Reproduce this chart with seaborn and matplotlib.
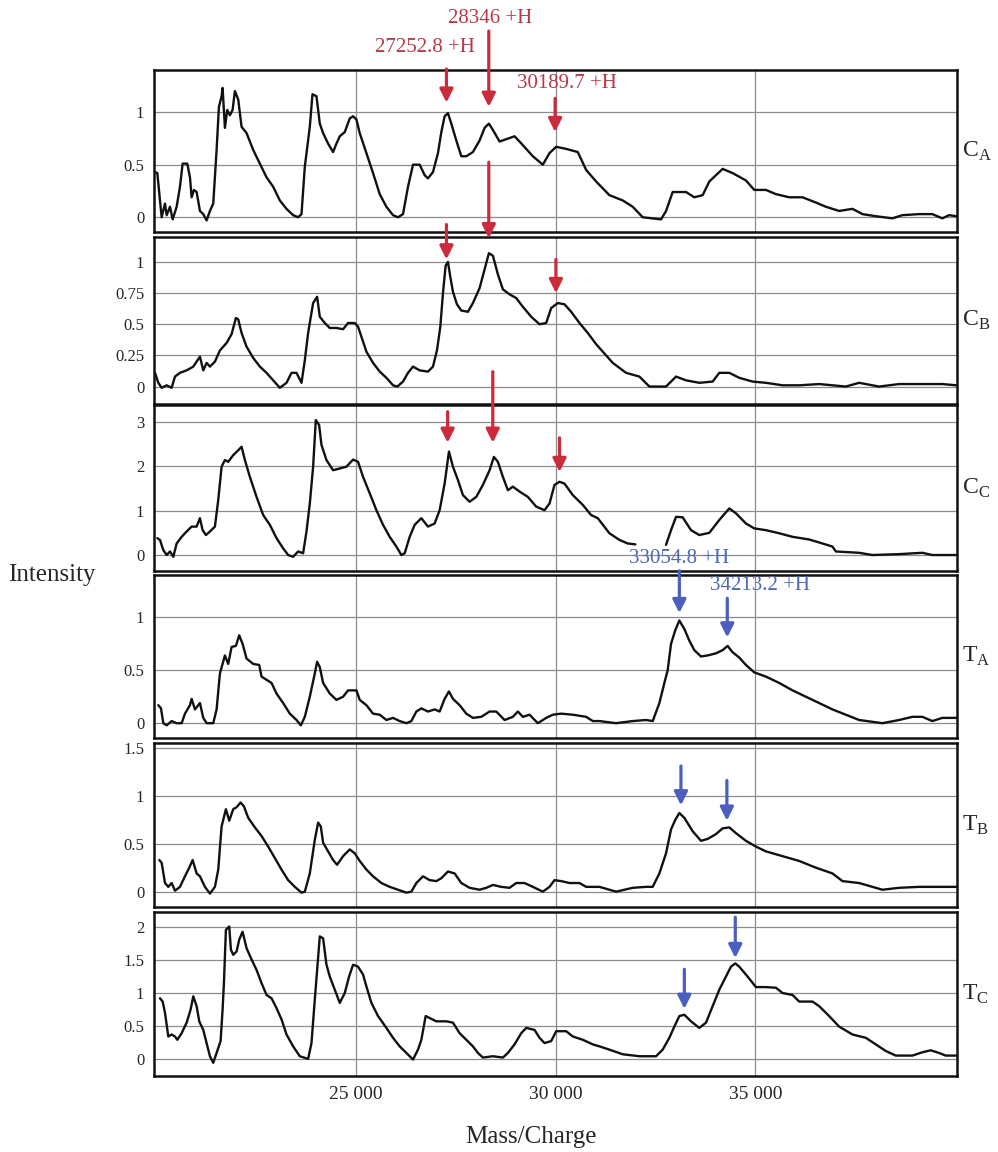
import matplotlib
matplotlib.use("Agg")
import matplotlib.pyplot as plt
import seaborn as sns
import pandas as pd

# Traces (mass/charge, intensity)
ca_points = [
    (19975, 0.43), (20033, 0.42), (20100, 0.16), (20142, 0.00), (20225, 0.13), (20267, 0.02),
    (20350, 0.10), (20417, -0.02), (20517, 0.10), (20600, 0.29), (20667, 0.51), (20783, 0.51),
    (20850, 0.38), (20892, 0.19), (20950, 0.26), (21017, 0.24), (21100, 0.06), (21183, 0.03),
    (21267, -0.03), (21350, 0.06), (21433, 0.13), (21517, 0.64), (21575, 1.05), (21642, 1.15),
    (21667, 1.23), (21725, 0.85), (21783, 1.02), (21850, 0.97), (21917, 1.02), (21975, 1.20),
    (22058, 1.12), (22142, 0.86), (22267, 0.80), (22433, 0.64), (22600, 0.51), (22767, 0.38),
    (22933, 0.29), (23100, 0.16), (23267, 0.08), (23433, 0.02), (23558, 0.00), (23642, 0.03),
    (23725, 0.48), (23850, 0.86), (23917, 1.17), (24017, 1.15), (24100, 0.89), (24183, 0.80),
    (24308, 0.70), (24433, 0.62), (24517, 0.70), (24600, 0.77), (24725, 0.81), (24850, 0.94),
    (24933, 0.96), (25017, 0.93), (25100, 0.80), (25267, 0.61), (25433, 0.42), (25600, 0.22),
    (25767, 0.10), (25933, 0.02), (26058, 0.00), (26183, 0.03), (26308, 0.29), (26433, 0.50),
    (26600, 0.50), (26725, 0.40), (26808, 0.37), (26933, 0.43), (27058, 0.61), (27142, 0.81),
    (27225, 0.96), (27308, 0.99), (27392, 0.89), (27517, 0.73), (27642, 0.58), (27767, 0.58),
    (27933, 0.62), (28100, 0.73), (28225, 0.85), (28333, 0.89), (28433, 0.83), (28600, 0.72),
    (28975, 0.77), (29100, 0.72), (29433, 0.58), (29683, 0.50), (29850, 0.61), (30017, 0.67),
    (30267, 0.65), (30558, 0.62), (30767, 0.45), (31017, 0.34), (31350, 0.21), (31683, 0.16),
    (31933, 0.10), (32183, 0.00), (32642, -0.02), (32767, 0.06), (32933, 0.24), (33267, 0.24),
    (33475, 0.19), (33683, 0.21), (33850, 0.34), (34183, 0.46), (34433, 0.42), (34767, 0.35),
    (34975, 0.26), (35267, 0.26), (35517, 0.22), (35850, 0.19), (36183, 0.19), (36517, 0.14),
    (36767, 0.10), (37100, 0.06), (37433, 0.08), (37683, 0.03), (38017, 0.01), (38433, -0.01),
    (38683, 0.02), (39100, 0.03), (39433, 0.03), (39683, -0.01), (39850, 0.02), (40033, 0.01),
]

cb_points = [
    (19975, 0.11), (20058, 0.03), (20142, -0.01), (20267, 0.01), (20392, -0.01), (20475, 0.08),
    (20600, 0.11), (20767, 0.13), (20933, 0.16), (21100, 0.24), (21183, 0.13), (21267, 0.19),
    (21350, 0.16), (21475, 0.20), (21600, 0.29), (21767, 0.35), (21892, 0.42), (22000, 0.55),
    (22058, 0.54), (22142, 0.43), (22267, 0.32), (22433, 0.23), (22600, 0.16), (22767, 0.11),
    (22933, 0.05), (23100, -0.01), (23267, 0.03), (23392, 0.11), (23517, 0.11), (23642, 0.03),
    (23725, 0.21), (23808, 0.43), (23933, 0.67), (24033, 0.72), (24100, 0.56), (24225, 0.51),
    (24350, 0.47), (24517, 0.47), (24683, 0.46), (24808, 0.51), (24975, 0.51), (25058, 0.48),
    (25142, 0.40), (25267, 0.28), (25433, 0.19), (25600, 0.12), (25767, 0.07), (25933, 0.01),
    (26042, 0.00), (26183, 0.04), (26308, 0.11), (26433, 0.16), (26600, 0.13), (26808, 0.12),
    (26933, 0.16), (27033, 0.29), (27117, 0.48), (27183, 0.75), (27250, 0.97), (27308, 1.00),
    (27367, 0.88), (27433, 0.76), (27533, 0.66), (27642, 0.61), (27808, 0.60), (27933, 0.67),
    (28100, 0.79), (28225, 0.94), (28333, 1.07), (28433, 1.05), (28558, 0.90), (28683, 0.78),
    (28850, 0.74), (29017, 0.71), (29183, 0.64), (29392, 0.56), (29600, 0.50), (29767, 0.51),
    (29892, 0.63), (30058, 0.67), (30225, 0.66), (30392, 0.60), (30600, 0.51), (30808, 0.43),
    (31017, 0.34), (31433, 0.19), (31767, 0.11), (32100, 0.08), (32350, 0.00), (32767, 0.00),
    (33017, 0.08), (33267, 0.05), (33600, 0.03), (33933, 0.04), (34100, 0.11), (34350, 0.11),
    (34600, 0.07), (34933, 0.04), (35267, 0.03), (35683, 0.01), (36100, 0.01), (36600, 0.02),
    (37267, 0.00), (37600, 0.03), (38100, 0.00), (38600, 0.02), (39183, 0.02), (39683, 0.02),
    (40033, 0.01),
]

# CC has a break in the trace around 32 000 - 32 700
cc_points_a = [
    (20033, 0.38), (20100, 0.34), (20183, 0.11), (20267, 0.00), (20350, 0.08), (20433, -0.04),
    (20517, 0.26), (20642, 0.41), (20767, 0.53), (20892, 0.64), (21017, 0.64), (21100, 0.83),
    (21167, 0.56), (21250, 0.45), (21350, 0.53), (21475, 0.64), (21558, 1.24), (21642, 1.99),
    (21725, 2.14), (21808, 2.10), (21933, 2.25), (22058, 2.36), (22142, 2.44), (22225, 2.14),
    (22350, 1.76), (22517, 1.31), (22683, 0.90), (22850, 0.68), (23017, 0.38), (23183, 0.15),
    (23308, 0.00), (23433, -0.04), (23558, 0.08), (23683, 0.04), (23767, 0.53), (23850, 1.16),
    (23933, 1.99), (24000, 3.04), (24083, 2.93), (24142, 2.48), (24267, 2.14), (24433, 1.91),
    (24600, 1.95), (24767, 1.99), (24933, 2.15), (25058, 2.10), (25183, 1.76), (25350, 1.39),
    (25517, 1.01), (25683, 0.68), (25850, 0.41), (26017, 0.19), (26142, 0.00), (26225, 0.04),
    (26350, 0.41), (26475, 0.68), (26642, 0.83), (26808, 0.64), (26975, 0.71), (27100, 1.01),
    (27225, 1.61), (27333, 2.33), (27433, 1.99), (27558, 1.69), (27683, 1.35), (27850, 1.20),
    (28017, 1.31), (28183, 1.58), (28350, 1.91), (28458, 2.21), (28558, 2.10), (28683, 1.76),
    (28808, 1.46), (28933, 1.54), (29100, 1.43), (29308, 1.31), (29517, 1.09), (29725, 1.01),
    (29850, 1.16), (29975, 1.58), (30100, 1.65), (30225, 1.61), (30433, 1.35), (30683, 1.13),
    (30892, 0.90), (31058, 0.83), (31350, 0.49), (31600, 0.34), (31808, 0.26), (32000, 0.24),
]
cc_points_b = [
    (32767, 0.23), (32892, 0.56), (33017, 0.86), (33183, 0.85), (33392, 0.56), (33600, 0.45),
    (33850, 0.50), (34100, 0.79), (34350, 1.05), (34517, 0.94), (34767, 0.71), (34975, 0.60),
    (35267, 0.56), (35600, 0.49), (35933, 0.41), (36350, 0.35), (36683, 0.26), (36933, 0.19),
    (37017, 0.08), (37600, 0.05), (37933, 0.00), (38600, 0.02), (39183, 0.05), (39433, 0.00),
    (40033, 0.00),
]

ta_points = [
    (20058, 0.17), (20125, 0.14), (20183, 0.00), (20267, -0.02), (20392, 0.02), (20517, 0.00),
    (20642, 0.00), (20725, 0.09), (20850, 0.17), (20892, 0.23), (20975, 0.13), (21100, 0.19),
    (21183, 0.05), (21267, 0.00), (21433, 0.00), (21517, 0.13), (21600, 0.47), (21725, 0.64),
    (21808, 0.56), (21892, 0.72), (22000, 0.73), (22083, 0.83), (22167, 0.75), (22267, 0.61),
    (22433, 0.56), (22583, 0.55), (22642, 0.44), (22767, 0.41), (22892, 0.38), (23017, 0.28),
    (23183, 0.19), (23350, 0.09), (23517, 0.03), (23625, -0.02), (23725, 0.06), (23850, 0.25),
    (23975, 0.47), (24033, 0.58), (24100, 0.53), (24183, 0.38), (24350, 0.28), (24517, 0.22),
    (24683, 0.25), (24808, 0.31), (25017, 0.31), (25100, 0.22), (25267, 0.17), (25433, 0.09),
    (25600, 0.08), (25767, 0.03), (25933, 0.05), (26100, 0.02), (26267, 0.00), (26392, 0.02),
    (26517, 0.11), (26642, 0.14), (26808, 0.11), (26975, 0.13), (27100, 0.11), (27225, 0.23),
    (27333, 0.30), (27433, 0.23), (27600, 0.17), (27767, 0.09), (27933, 0.05), (28142, 0.06),
    (28350, 0.11), (28517, 0.11), (28725, 0.03), (28933, 0.06), (29058, 0.11), (29183, 0.06),
    (29350, 0.08), (29558, 0.00), (29767, 0.05), (29933, 0.08), (30142, 0.09), (30433, 0.08),
    (30767, 0.06), (30933, 0.02), (31100, 0.02), (31517, 0.00), (31933, 0.02), (32267, 0.03),
    (32433, 0.02), (32600, 0.19), (32725, 0.38), (32808, 0.50), (32892, 0.75), (33000, 0.88),
    (33100, 0.97), (33225, 0.89), (33350, 0.78), (33475, 0.69), (33642, 0.63), (33808, 0.64),
    (34017, 0.66), (34183, 0.69), (34308, 0.73), (34433, 0.67), (34600, 0.62), (34767, 0.55),
    (34975, 0.48), (35267, 0.44), (35600, 0.38), (35933, 0.31), (36267, 0.25), (36600, 0.19),
    (36933, 0.13), (37267, 0.08), (37600, 0.03), (38183, 0.00), (38600, 0.03), (38933, 0.06),
    (39183, 0.06), (39433, 0.02), (39683, 0.05), (40033, 0.05),
]

tb_points = [
    (20083, 0.33), (20142, 0.30), (20225, 0.09), (20308, 0.05), (20392, 0.09), (20475, 0.01),
    (20600, 0.05), (20725, 0.16), (20833, 0.25), (20917, 0.33), (21017, 0.19), (21100, 0.16),
    (21225, 0.05), (21350, -0.02), (21475, 0.05), (21558, 0.23), (21642, 0.68), (21750, 0.86),
    (21833, 0.74), (21933, 0.86), (22017, 0.88), (22117, 0.93), (22200, 0.89), (22308, 0.77),
    (22475, 0.67), (22642, 0.58), (22808, 0.47), (22975, 0.35), (23142, 0.23), (23308, 0.12),
    (23475, 0.05), (23642, -0.01), (23725, 0.00), (23850, 0.19), (23975, 0.54), (24058, 0.72),
    (24125, 0.68), (24183, 0.51), (24308, 0.42), (24433, 0.33), (24533, 0.28), (24683, 0.37),
    (24850, 0.44), (24975, 0.40), (25100, 0.32), (25267, 0.23), (25433, 0.16), (25642, 0.09),
    (25850, 0.05), (26058, 0.02), (26267, -0.01), (26392, 0.00), (26517, 0.09), (26683, 0.16),
    (26850, 0.12), (27017, 0.11), (27142, 0.14), (27308, 0.21), (27475, 0.19), (27642, 0.09),
    (27850, 0.04), (28100, 0.02), (28267, 0.04), (28433, 0.07), (28642, 0.05), (28850, 0.04),
    (29017, 0.09), (29225, 0.09), (29433, 0.05), (29683, 0.00), (29850, 0.05), (29975, 0.12),
    (30142, 0.11), (30350, 0.09), (30600, 0.09), (30767, 0.05), (31100, 0.05), (31517, 0.00),
    (31933, 0.04), (32267, 0.05), (32433, 0.05), (32600, 0.19), (32767, 0.40), (32892, 0.65),
    (33000, 0.75), (33100, 0.82), (33225, 0.77), (33433, 0.63), (33642, 0.53), (33808, 0.55),
    (34017, 0.60), (34183, 0.66), (34350, 0.67), (34517, 0.61), (34767, 0.53), (35017, 0.47),
    (35267, 0.42), (35683, 0.37), (36100, 0.32), (36517, 0.25), (36933, 0.19), (37183, 0.11),
    (37600, 0.09), (37933, 0.05), (38183, 0.02), (38600, 0.04), (39100, 0.05), (39600, 0.05),
    (40033, 0.05),
]

tc_points = [
    (20100, 0.92), (20167, 0.87), (20225, 0.70), (20267, 0.52), (20308, 0.34), (20392, 0.37),
    (20475, 0.34), (20533, 0.29), (20642, 0.39), (20767, 0.55), (20867, 0.75), (20933, 0.95),
    (21017, 0.80), (21083, 0.57), (21183, 0.44), (21267, 0.24), (21350, 0.04), (21433, -0.06),
    (21517, 0.09), (21617, 0.27), (21667, 0.75), (21700, 1.15), (21750, 1.96), (21833, 2.01),
    (21875, 1.66), (21933, 1.58), (22017, 1.63), (22083, 1.81), (22167, 1.93), (22267, 1.68),
    (22392, 1.51), (22517, 1.35), (22642, 1.15), (22767, 0.97), (22892, 0.92), (23017, 0.77),
    (23142, 0.60), (23267, 0.37), (23433, 0.19), (23600, 0.04), (23808, 0.00), (23892, 0.24),
    (23975, 0.90), (24058, 1.53), (24100, 1.86), (24183, 1.83), (24267, 1.43), (24350, 1.25),
    (24475, 1.05), (24600, 0.85), (24725, 1.00), (24833, 1.25), (24933, 1.43), (25058, 1.40),
    (25183, 1.28), (25267, 1.10), (25392, 0.85), (25558, 0.65), (25767, 0.47), (25933, 0.32),
    (26100, 0.19), (26267, 0.09), (26433, -0.01), (26558, 0.14), (26642, 0.29), (26750, 0.65),
    (26850, 0.62), (27017, 0.57), (27267, 0.57), (27433, 0.55), (27600, 0.39), (27767, 0.29),
    (27933, 0.19), (28058, 0.09), (28183, 0.02), (28433, 0.04), (28683, 0.02), (28808, 0.09),
    (28975, 0.22), (29142, 0.39), (29267, 0.47), (29475, 0.44), (29600, 0.32), (29725, 0.24),
    (29892, 0.27), (30017, 0.42), (30267, 0.42), (30433, 0.34), (30683, 0.29), (30933, 0.22),
    (31100, 0.19), (31350, 0.14), (31683, 0.07), (32100, 0.04), (32517, 0.04), (32683, 0.14),
    (32850, 0.32), (32975, 0.49), (33100, 0.65), (33225, 0.67), (33392, 0.57), (33600, 0.47),
    (33767, 0.55), (33933, 0.80), (34100, 1.05), (34267, 1.25), (34392, 1.40), (34500, 1.45),
    (34600, 1.40), (34808, 1.25), (35017, 1.09), (35267, 1.09), (35517, 1.08), (35683, 1.00),
    (35933, 0.97), (36100, 0.87), (36433, 0.87), (36600, 0.80), (36850, 0.65), (37100, 0.49),
    (37433, 0.37), (37767, 0.32), (38017, 0.22), (38267, 0.12), (38517, 0.05), (38933, 0.05),
    (39183, 0.10), (39392, 0.13), (39600, 0.09), (39767, 0.05), (40033, 0.05),
]

panel_letters = ["C", "C", "C", "T", "T", "T"]
panel_subs = ["A", "B", "C", "A", "B", "C"]
y_ticks = [[0, 0.5, 1], [0, 0.25, 0.5, 0.75, 1], [0, 1, 2, 3],
           [0, 0.5, 1], [0, 0.5, 1, 1.5], [0, 0.5, 1, 1.5, 2]]
y_tick_labels = [["0", "0.5", "1"], ["0", "0.25", "0.5", "0.75", "1"], ["0", "1", "2", "3"],
                 ["0", "0.5", "1"], ["0", "0.5", "1", "1.5"], ["0", "0.5", "1", "1.5", "2"]]
x_ticks = [25000, 30000, 35000]
x_tick_labels = ["25 000", "30 000", "35 000"]

red_peaks = ["27252.8 +H", "28346 +H", "30189.7 +H"]
blue_peaks = ["33054.8 +H", "34213.2 +H"]


def to_frame(points, segment):
    df = pd.DataFrame(points, columns=["mass", "intensity"])
    df["segment"] = segment
    return df


traces = [
    to_frame(ca_points, 0),
    to_frame(cb_points, 0),
    pd.concat([to_frame(cc_points_a, 0), to_frame(cc_points_b, 1)], ignore_index=True),
    to_frame(ta_points, 0),
    to_frame(tb_points, 0),
    to_frame(tc_points, 0),
]

sns.set_theme(style="white")
plt.rcParams["font.family"] = ["Liberation Serif", "DejaVu Serif"]
plt.rcParams["mathtext.fontset"] = "custom"
plt.rcParams["mathtext.rm"] = "Liberation Serif"

W, H = 998, 1152
fig = plt.figure(figsize=(W / 100, H / 100), dpi=100)
fig.patch.set_facecolor("white")

# panel frames in pixels (top, bottom)
boxes = [(70, 232), (237, 404), (405, 571), (575, 738), (743, 907), (912, 1076)]
ylims = [(-0.14, 1.40), (-0.14, 1.20), (-0.36, 3.38), (-0.14, 1.40), (-0.16, 1.55), (-0.26, 2.23)]
left_px, right_px = 154, 957

red = "#cc2b3c"
red_txt = "#b8384a"
blue = "#4a5fc0"
blue_txt = "#4d68b4"

axes = []
for i, (top, bot) in enumerate(boxes):
    ax = fig.add_axes([left_px / W, 1 - bot / H, (right_px - left_px) / W, (bot - top) / H])
    ax.set_xlim(19950, 40050)
    ax.set_ylim(*ylims[i])
    ax.set_yticks(y_ticks[i])
    ax.set_yticklabels(y_tick_labels[i], fontsize=12)
    ax.set_xticks(x_ticks)
    if i == 5:
        ax.set_xticklabels(x_tick_labels, fontsize=14)
    else:
        ax.set_xticklabels([])
    ax.tick_params(length=0, pad=7)
    ax.grid(True, color="#8c8c8c", lw=0.9)
    ax.set_axisbelow(True)
    for s in ax.spines.values():
        s.set_color("#111111")
        s.set_linewidth(1.8)

    sns.lineplot(data=traces[i], x="mass", y="intensity", units="segment",
                 estimator=None, sort=False, color="#111111", lw=1.7, ax=ax)
    ax.set_xlabel("")
    ax.set_ylabel("")

    ax.text(1.006, 0.5, r"$\mathrm{%s}_{\mathrm{%s}}$" % (panel_letters[i], panel_subs[i]),
            transform=ax.transAxes, fontsize=17, ha="left", va="center")
    axes.append(ax)


def arrow(ax, x, tail, tip, color):
    ax.annotate("", xy=(x, tip), xytext=(x, tail), annotation_clip=False,
                arrowprops=dict(arrowstyle="-|>", color=color, lw=2.3,
                                mutation_scale=20, shrinkA=0, shrinkB=0), zorder=5)


# red arrows (mass, tail, tip) per C panel
arrow(axes[0], 27270, 1.41, 1.09, red)
arrow(axes[0], 28330, 1.77, 1.05, red)
arrow(axes[0], 29990, 1.13, 0.81, red)
arrow(axes[1], 27270, 1.30, 1.02, red)
arrow(axes[1], 28330, 1.80, 1.19, red)
arrow(axes[1], 30010, 1.02, 0.75, red)
arrow(axes[2], 27300, 3.23, 2.53, red)
arrow(axes[2], 28430, 4.13, 2.53, red)
arrow(axes[2], 30100, 2.64, 1.87, red)
# blue arrows per T panel
arrow(axes[3], 33100, 1.44, 1.04, blue)
arrow(axes[3], 34300, 1.18, 0.81, blue)
arrow(axes[4], 33140, 1.31, 0.90, blue)
arrow(axes[4], 34290, 1.16, 0.74, blue)
arrow(axes[5], 33225, 1.36, 0.76, blue)
arrow(axes[5], 34500, 2.15, 1.53, blue)

lab = dict(fontsize=15, ha="center", va="center", clip_on=False)
axes[0].text(26725, 1.61, red_peaks[0], color=red_txt, **lab)
axes[0].text(28375, 1.89, red_peaks[1], color=red_txt, **lab)
axes[0].text(30275, 1.27, red_peaks[2], color=red_txt, **lab)
axes[2].text(33100, -0.07, blue_peaks[0], color=blue_txt, **lab)
axes[3].text(35125, 1.30, blue_peaks[1], color=blue_txt, **lab)

fig.text(8 / W, 1 - 575 / H, "Intensity", fontsize=18, ha="left", va="center")
fig.text(531 / W, 1 - 1137 / H, "Mass/Charge", fontsize=18, ha="center", va="center")

fig.savefig("out.png", dpi=100)
